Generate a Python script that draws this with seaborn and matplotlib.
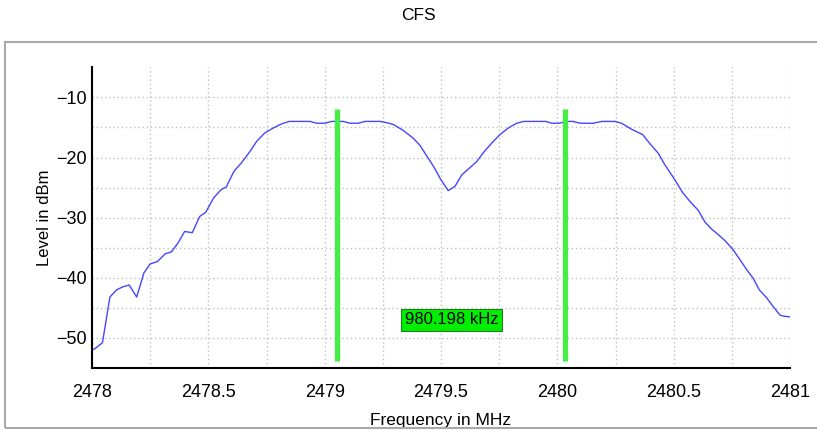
"""
CFS spectrum trace with two frequency markers, redrawn with seaborn.

Output:
    out.png
"""

import matplotlib.pyplot as plt
import matplotlib.patches as mpatches
import pandas as pd
import seaborn as sns

# trace
freq_mhz = [
    2478.000, 2478.012, 2478.045, 2478.077, 2478.106, 2478.133, 2478.160,
    2478.192, 2478.223, 2478.250, 2478.281, 2478.315, 2478.341, 2478.370,
    2478.398, 2478.431, 2478.463, 2478.489, 2478.523, 2478.556, 2478.577,
    2478.610, 2478.642, 2478.679, 2478.708, 2478.743, 2478.779, 2478.815,
    2478.848, 2478.937, 2478.966, 2479.001, 2479.030, 2479.080, 2479.109,
    2479.144, 2479.173, 2479.238, 2479.266, 2479.295, 2479.338, 2479.381,
    2479.410, 2479.438, 2479.470, 2479.498, 2479.531, 2479.560, 2479.589,
    2479.621, 2479.653, 2479.682, 2479.718, 2479.753, 2479.789, 2479.825,
    2479.856, 2479.951, 2479.976, 2480.008, 2480.040, 2480.068, 2480.097,
    2480.154, 2480.190, 2480.248, 2480.276, 2480.319, 2480.367, 2480.398,
    2480.434, 2480.462, 2480.505, 2480.538, 2480.570, 2480.606, 2480.634,
    2480.663, 2480.691, 2480.720, 2480.753, 2480.785, 2480.813, 2480.842,
    2480.868, 2480.899, 2480.928, 2480.957, 2480.975, 2481.000,
]
level_dbm = [
    -52.0, -51.8, -50.8, -43.2, -42.0, -41.5, -41.2,
    -43.2, -39.2, -37.7, -37.3, -36.0, -35.7, -34.2,
    -32.3, -32.5, -29.8, -29.1, -26.7, -25.3, -24.9,
    -22.3, -20.9, -19.0, -17.3, -15.9, -15.1, -14.4,
    -14.0, -14.0, -14.3, -14.3, -14.0, -14.0, -14.3,
    -14.3, -14.0, -14.0, -14.2, -14.5, -15.5, -16.8,
    -18.0, -19.7, -21.6, -23.6, -25.5, -24.8, -22.9,
    -21.8, -20.7, -19.2, -17.6, -16.2, -15.1, -14.3,
    -14.0, -14.0, -14.3, -14.3, -14.0, -14.0, -14.3,
    -14.3, -14.0, -14.0, -14.3, -15.3, -16.2, -17.7,
    -19.3, -21.2, -23.7, -25.8, -27.3, -28.8, -30.7,
    -31.9, -32.8, -33.8, -35.2, -37.0, -38.6, -40.1,
    -42.0, -43.3, -44.8, -46.2, -46.4, -46.5,
]

marker_freqs = [2479.0535, 2480.0337]
marker_top = -12.0
marker_bottom = -53.8
marker_label = "980.198 kHz"
marker_label_pos = (2479.545, -47.0)

x_major = [2478, 2478.5, 2479, 2479.5, 2480, 2480.5, 2481]
x_major_labels = ["2478", "2478.5", "2479", "2479.5", "2480", "2480.5", "2481"]
x_minor = [2478.25, 2478.75, 2479.25, 2479.75, 2480.25, 2480.75]
y_major = [-50, -40, -30, -20, -10]
y_minor = [-45, -35, -25, -15]

sns.set_theme(style="white")
plt.rcParams["font.family"] = ["Liberation Sans", "DejaVu Sans"]

df = pd.DataFrame({"freq": freq_mhz, "level": level_dbm})

fig = plt.figure(figsize=(8.17, 4.30), dpi=100)
ax = fig.add_axes([92 / 817, 62 / 430, 698 / 817, 300.7 / 430])

# grey panel frame around the plot area
fig.patches.append(
    mpatches.Rectangle(
        (5 / 817, 2 / 430), 1.2, 386 / 430,
        transform=fig.transFigure, fill=False, edgecolor="#a8a8a8", linewidth=1.5,
    )
)

sns.lineplot(data=df, x="freq", y="level", sort=False, color="#4646ff",
             linewidth=1.0, ax=ax)
ax.vlines(marker_freqs, marker_bottom, marker_top, color="#44ee44", linewidth=3.8,
          zorder=3)
ax.text(*marker_label_pos, marker_label, ha="center", va="center", fontsize=12,
        color="black", zorder=4,
        bbox=dict(boxstyle="square,pad=0.22", facecolor="#00ee00",
                  edgecolor="#208020", linewidth=0.8))

ax.set_xlim(2478, 2481)
ax.set_ylim(-55, -5)
ax.set_xticks(x_major)
ax.set_xticklabels(x_major_labels)
ax.set_xticks(x_minor, minor=True)
ax.set_yticks(y_major)
ax.set_yticks(y_minor, minor=True)

ax.grid(which="both", color="#c0c0c0", linestyle=(0, (1, 2)), linewidth=1.0)
for side in ("top", "right"):
    ax.spines[side].set_visible(False)
for side in ("left", "bottom"):
    ax.spines[side].set_color("black")
    ax.spines[side].set_linewidth(1.5)

ax.tick_params(which="both", direction="inout", color="black", width=1.5,
               labelsize=13, labelcolor="black")
ax.tick_params(axis="x", which="both", length=7, pad=8)
ax.tick_params(axis="y", which="both", length=6, pad=1)

ax.set_xlabel("Frequency in MHz", fontsize=12.5, color="black", labelpad=9)
ax.set_ylabel("Level in dBm", fontsize=12, color="black", labelpad=3)
fig.text(418 / 817, 1 - 16 / 430, "CFS", ha="center", va="center", fontsize=12.5,
         color="black")

fig.savefig("out.png", dpi=100)
plt.close(fig)
